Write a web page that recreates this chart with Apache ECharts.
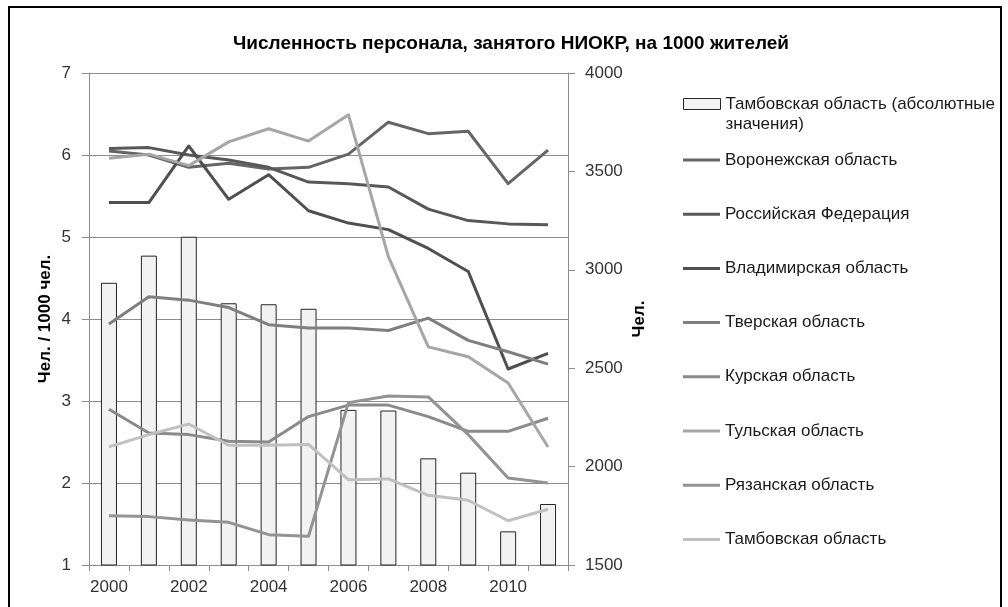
<!DOCTYPE html>
<html>
<head>
<meta charset="utf-8">
<script src="https://cdn.jsdelivr.net/npm/echarts@6/dist/echarts.min.js"></script>
<style>
  html, body { margin: 0; padding: 0; background: #fff; }
  #frame { position: absolute; left: 8px; top: 6px; width: 990px; height: 640px; border: 2px solid #000; }
  #chart { position: absolute; left: 0; top: 0; width: 1008px; height: 607px; }
</style>
</head>
<body>
<div id="frame"></div>
<div id="chart"></div>
<script>
// годы
const years = ['2000', '2001', '2002', '2003', '2004', '2005', '2006', '2007', '2008', '2009', '2010', '2011'];

// абсолютные значения, чел. (правая ось)
const tambovAbs = [2934, 3072, 3168, 2830, 2825, 2802, 2288, 2285, 2042, 1969, 1671, 1810];

// чел. на 1000 жителей (левая ось)
const voronezh = [6.05, 6.00, 5.85, 5.90, 5.83, 5.85, 6.01, 6.40, 6.26, 6.29, 5.65, 6.06];
const russia   = [6.08, 6.09, 6.00, 5.94, 5.85, 5.67, 5.65, 5.61, 5.34, 5.20, 5.16, 5.15];
const vladimir = [5.42, 5.42, 6.11, 5.46, 5.76, 5.32, 5.17, 5.09, 4.86, 4.58, 3.39, 3.58];
const tver     = [3.94, 4.27, 4.23, 4.14, 3.93, 3.89, 3.89, 3.86, 4.01, 3.74, 3.60, 3.45];
const kursk    = [2.90, 2.61, 2.59, 2.51, 2.50, 2.81, 2.95, 2.95, 2.81, 2.63, 2.63, 2.79];
const tula     = [5.96, 6.01, 5.87, 6.16, 6.32, 6.17, 6.49, 4.76, 3.66, 3.54, 3.22, 2.44];
const ryazan   = [1.60, 1.59, 1.55, 1.52, 1.37, 1.35, 2.98, 3.06, 3.05, 2.59, 2.06, 2.00];
const tambov   = [2.44, 2.59, 2.72, 2.46, 2.46, 2.47, 2.04, 2.05, 1.85, 1.79, 1.54, 1.68];

const barName = 'Тамбовская область (абсолютные значения)';
const lines = [
  { name: 'Воронежская область', data: voronezh, color: '#656565' },
  { name: 'Российская Федерация', data: russia, color: '#585858' },
  { name: 'Владимирская область', data: vladimir, color: '#4f4f4f' },
  { name: 'Тверская область', data: tver, color: '#7f7f7f' },
  { name: 'Курская область', data: kursk, color: '#8a8a8a' },
  { name: 'Тульская область', data: tula, color: '#a6a6a6' },
  { name: 'Рязанская область', data: ryazan, color: '#939393' },
  { name: 'Тамбовская область', data: tambov, color: '#c0c0c0' }
];

const font = 'Liberation Sans, Arial, sans-serif';
const axisGray = '#8c8c8c';

let myChart = echarts.init(document.getElementById('chart'), null, { renderer: 'canvas' });

let series = [{
  name: barName,
  type: 'bar',
  yAxisIndex: 1,
  barWidth: 16,
  itemStyle: { color: '#f2f2f2', borderColor: '#262626', borderWidth: 1 },
  data: tambovAbs
}];
lines.forEach(function (l) {
  series.push({
    name: l.name,
    type: 'line',
    yAxisIndex: 0,
    symbol: 'none',
    lineStyle: { width: 3, color: l.color, join: 'round' },
    itemStyle: { color: l.color },
    data: l.data
  });
});

let option = {
  animation: false,
  textStyle: { fontFamily: font },
  title: {
    text: 'Численность персонала, занятого НИОКР, на 1000 жителей',
    left: 506,
    textAlign: 'center',
    top: 29,
    textStyle: { fontSize: 19, fontWeight: 'bold', color: '#000', fontFamily: font }
  },
  legend: [{
    data: [barName],
    orient: 'vertical',
    left: 683,
    top: 74,
    padding: 0,
    icon: 'rect',
    itemWidth: 37,
    itemHeight: 11,
    itemStyle: { color: '#f2f2f2', borderColor: '#262626', borderWidth: 1 },
    // пустая первая строка, чтобы значок стоял напротив первой строки текста
    formatter: function () { return ' \nТамбовская область (абсолютные\nзначения)'; },
    textStyle: { fontSize: 17, color: '#1a1a1a', lineHeight: 20, fontFamily: font }
  }, {
    data: lines.map(function (l) { return l.name; }),
    orient: 'vertical',
    left: 683,
    top: 150,
    padding: 0,
    icon: 'rect',
    itemWidth: 37,
    itemHeight: 3,
    itemGap: 34.2,
    textStyle: { fontSize: 17, color: '#1a1a1a', lineHeight: 20, fontFamily: font }
  }],
  grid: { left: 89, right: 440, top: 73, bottom: 42 },
  xAxis: {
    type: 'category',
    data: years,
    boundaryGap: true,
    axisLine: { lineStyle: { color: axisGray } },
    axisTick: { show: true, interval: 0, length: 6, lineStyle: { color: axisGray } },
    axisLabel: { interval: 1, fontSize: 17, color: '#333', margin: 14 }
  },
  yAxis: [{
    type: 'value',
    min: 1,
    max: 7,
    interval: 1,
    name: 'Чел. / 1000 чел.',
    nameLocation: 'middle',
    nameGap: 35,
    nameRotate: 90,
    nameTextStyle: { fontSize: 17, fontWeight: 'bold', color: '#000' },
    axisLine: { show: true, lineStyle: { color: axisGray } },
    axisTick: { show: true, length: 7, lineStyle: { color: axisGray } },
    axisLabel: { fontSize: 17, color: '#333', margin: 18 },
    splitLine: { show: true, lineStyle: { color: axisGray, width: 1 } }
  }, {
    type: 'value',
    min: 1500,
    max: 4000,
    interval: 500,
    position: 'right',
    name: 'Чел.',
    nameLocation: 'middle',
    nameGap: 63,
    nameRotate: 90,
    nameTextStyle: { fontSize: 17, fontWeight: 'bold', color: '#000' },
    axisLine: { show: true, lineStyle: { color: axisGray } },
    axisTick: { show: true, length: 7, lineStyle: { color: axisGray } },
    axisLabel: { fontSize: 17, color: '#333', margin: 17, formatter: function (v) { return String(v); } },
    splitLine: { show: false }
  }],
  series: series
};

myChart.setOption(option);
</script>
</body>
</html>
